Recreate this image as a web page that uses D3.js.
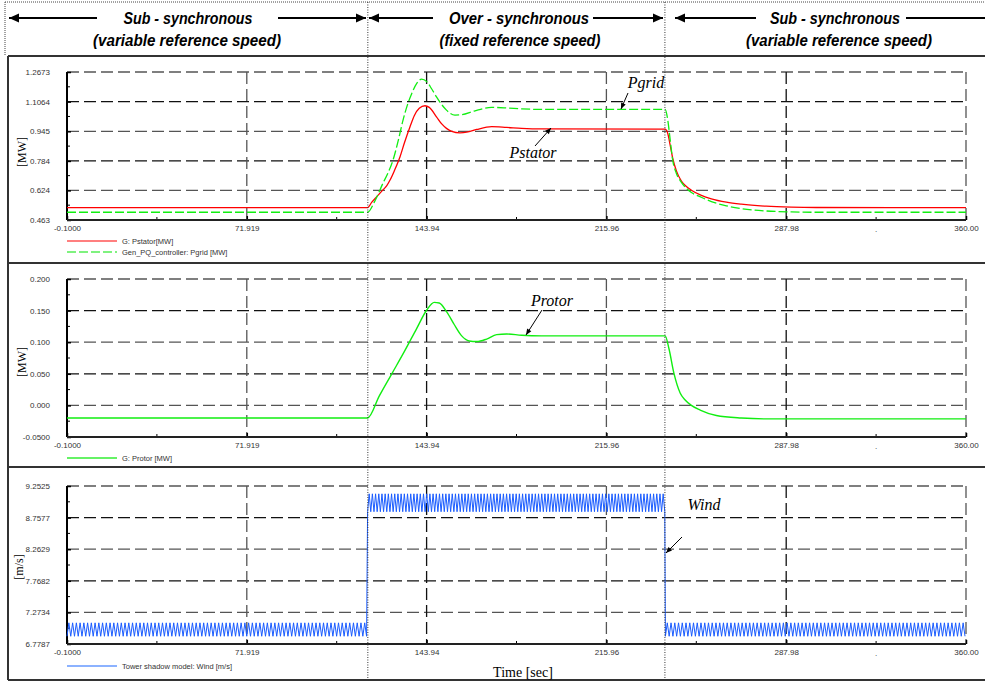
<!DOCTYPE html>
<html><head><meta charset="utf-8">
<script src="https://cdn.jsdelivr.net/npm/d3@7"></script>
<style>
html,body{margin:0;padding:0;background:#fff;}
svg{display:block;}
</style></head>
<body>
<svg id="chart" width="985" height="682"></svg>
<script>
// ---------- DATA ----------
const xTickVals = [-0.1, 71.919, 143.94, 215.96, 287.98, 360.0];
const xTickLabels = ["-0.1000", "71.919", "143.94", "215.96", "287.98", "360.00"];
const switchTimes = [120.4, 239.4];

const p1TickVals = [0.463, 0.624, 0.784, 0.945, 1.1064, 1.2673];
const p1TickLabels = ["0.463", "0.624", "0.784", "0.945", "1.1064", "1.2673"];
const p2TickVals = [-0.05, 0.0, 0.05, 0.1, 0.15, 0.2];
const p2TickLabels = ["-0.0500", "0.000", "0.050", "0.100", "0.150", "0.200"];
const p3TickVals = [6.7787, 7.2734, 7.7682, 8.2629, 8.7577, 9.2525];
const p3TickLabels = ["6.7787", "7.2734", "7.7682", "8.2629", "8.7577", "9.2525"];

const statorT = [-0.1, 120.3, 122, 124, 126, 128, 129.3, 131, 133.3, 135, 137.3, 139, 141, 143.3, 145, 147.9, 150, 151.9, 154, 157.3, 160, 164, 170, 176, 182, 190, 239.5, 240.5, 241.5, 242.5, 244, 246, 248, 250, 254, 258, 264, 270, 280, 290, 300, 360];
const statorP = [0.530, 0.530, 0.560, 0.590, 0.620, 0.650, 0.680, 0.730, 0.807, 0.880, 0.970, 1.030, 1.070, 1.084, 1.075, 1.024, 0.985, 0.961, 0.945, 0.937, 0.940, 0.955, 0.970, 0.966, 0.961, 0.958, 0.957, 0.935, 0.870, 0.800, 0.730, 0.675, 0.645, 0.625, 0.597, 0.578, 0.560, 0.549, 0.538, 0.533, 0.531, 0.530];

const gridT = [-0.1, 120.3, 123, 126.5, 128.5, 130.5, 132.5, 134.5, 136.3, 138, 140, 141.9, 144, 146, 147.9, 150, 151.9, 155.3, 158, 163, 170, 176, 182, 190, 239.5, 240.5, 241.5, 242.5, 244, 246, 248, 250, 253.4, 258, 264, 270, 280, 290, 300, 360];
const gridP = [0.505, 0.505, 0.560, 0.664, 0.720, 0.789, 0.890, 1.006, 1.090, 1.151, 1.205, 1.229, 1.215, 1.175, 1.132, 1.090, 1.060, 1.033, 1.035, 1.055, 1.075, 1.072, 1.067, 1.064, 1.064, 1.010, 0.900, 0.790, 0.716, 0.668, 0.635, 0.612, 0.590, 0.563, 0.540, 0.525, 0.512, 0.507, 0.505, 0.505];

const rotorT = [-0.1, 120.3, 125, 130, 135, 140, 144, 147, 149, 152, 155, 158, 161, 164, 168, 172, 176, 182, 190, 239.5, 241, 243, 245.5, 247.5, 250, 253.5, 260, 270, 280, 360];
const rotorP = [-0.020, -0.020, 0.015, 0.050, 0.085, 0.122, 0.151, 0.163, 0.162, 0.148, 0.128, 0.110, 0.102, 0.101, 0.105, 0.112, 0.113, 0.111, 0.110, 0.110, 0.090, 0.051, 0.0196, 0.0085, 0.000, -0.0073, -0.016, -0.020, -0.0213, -0.0213];

// wind (tower shadow oscillation): segments
const windSegStart = [-0.1, 120.3, 239.6];
const windSegEnd = [120.3, 239.6, 360.0];
const windLow = [6.90, 8.85, 6.90];
const windHigh = [7.11, 9.13, 7.11];
const windPeriod = [1.5, 1.28, 1.5];

// ---------- DRAW ----------
const svg = d3.select("#chart");
const X0 = 67, X1 = 966;
const x = d3.scaleLinear().domain([-0.1, 360]).range([X0, X1]);

const tickFont = "'Liberation Sans', Arial, sans-serif";
const serif = "'Liberation Serif', 'Times New Roman', serif";
const headFont = "'Liberation Sans', Arial, sans-serif";

// header
svg.append("line").attr("x1", 5).attr("x2", 985).attr("y1", 2).attr("y2", 2)
  .attr("stroke", "#444").attr("stroke-width", 1).attr("stroke-dasharray", "1,1");
svg.append("line").attr("x1", 5).attr("x2", 5).attr("y1", 2).attr("y2", 56)
  .attr("stroke", "#444").attr("stroke-width", 1).attr("stroke-dasharray", "1,1");

function arrow(xa, xb, y, headA, headB) {
  svg.append("line").attr("x1", xa).attr("x2", xb).attr("y1", y).attr("y2", y)
    .attr("stroke", "#000").attr("stroke-width", 2);
  if (headA) svg.append("path").attr("d", `M${xa},${y} l10,-4.5 l0,9 Z`).attr("fill", "#000");
  if (headB) svg.append("path").attr("d", `M${xb},${y} l-10,-4.5 l0,9 Z`).attr("fill", "#000");
}
arrow(9, 97, 18, true, false);
arrow(278, 366, 18, false, true);
arrow(369, 433, 18, true, false);
arrow(593, 663, 18, false, true);
arrow(675, 756, 18, true, false);
arrow(906, 985, 18, false, false);

const headTexts = [
  {t: "Sub - synchronous", cx: 188, y: 24, w: 129},
  {t: "(variable reference speed)", cx: 187, y: 46, w: 188},
  {t: "Over - synchronous", cx: 519, y: 24, w: 140},
  {t: "(fixed reference speed)", cx: 520, y: 46, w: 161},
  {t: "Sub - synchronous", cx: 835, y: 24, w: 130},
  {t: "(variable reference speed)", cx: 839, y: 46, w: 186}
];
svg.selectAll("text.head").data(headTexts).enter().append("text")
  .attr("class", "head").attr("x", d => d.cx - d.w / 2).attr("y", d => d.y)
  .attr("textLength", d => d.w).attr("lengthAdjust", "spacingAndGlyphs")
  .attr("font-family", headFont)
  .attr("font-weight", "bold").attr("font-style", "italic").attr("font-size", 17)
  .text(d => d.t);

// panel frames
[56, 263, 467, 680].forEach(yy => {
  svg.append("line").attr("x1", 8).attr("x2", 985).attr("y1", yy).attr("y2", yy)
    .attr("stroke", "#333").attr("stroke-width", 2.2);
});
svg.append("line").attr("x1", 8).attr("x2", 8).attr("y1", 56).attr("y2", 680)
  .attr("stroke", "#333").attr("stroke-width", 2);

// panels
const panels = [
  {top: 72, bottom: 220, vals: p1TickVals, labels: p1TickLabels, title: "[MW]", titleX: 22, titleY: 152},
  {top: 279, bottom: 437, vals: p2TickVals, labels: p2TickLabels, title: "[MW]", titleX: 22, titleY: 362},
  {top: 486, bottom: 644, vals: p3TickVals, labels: p3TickLabels, title: "[m/s]", titleX: 19, titleY: 567}
];

panels.forEach(p => {
  const vals = p.vals;
  p.y = d3.scaleLinear().domain([vals[0], vals[vals.length - 1]]).range([p.bottom, p.top]);
  const g = svg.append("g");
  vals.slice(1).forEach((v, i) => {
    g.append("line").attr("x1", X0).attr("x2", X1).attr("y1", p.y(v)).attr("y2", p.y(v))
      .attr("stroke", i % 2 === 0 ? "#555" : "#111").attr("stroke-width", 1.3)
      .attr("stroke-dasharray", "12,5");
  });
  xTickVals.slice(1).forEach((v, i) => {
    g.append("line").attr("x1", x(v)).attr("x2", x(v)).attr("y1", p.top).attr("y2", p.bottom)
      .attr("stroke", i % 2 === 0 ? "#555" : "#111").attr("stroke-width", 1.3)
      .attr("stroke-dasharray", "12,5");
  });
  const minY = d3.pairs(vals).map(d => (d[0] + d[1]) / 2);
  minY.forEach(v => g.append("line").attr("x1", X0).attr("x2", X0 + 3)
    .attr("y1", p.y(v)).attr("y2", p.y(v)).attr("stroke", "#000").attr("stroke-width", 1));
  const minX = d3.pairs(xTickVals).map(d => (d[0] + d[1]) / 2);
  minX.forEach(v => g.append("line").attr("x1", x(v)).attr("x2", x(v))
    .attr("y1", p.bottom).attr("y2", p.bottom - 3).attr("stroke", "#000").attr("stroke-width", 1));
  const ya = d3.axisLeft(p.y).tickValues(vals).tickFormat((d, i) => p.labels[i]).tickSize(-4).tickPadding(17);
  const yg = g.append("g").attr("transform", `translate(${X0},0)`).call(ya);
  yg.select(".domain").remove();
  yg.selectAll(".tick line").attr("stroke", "#000").attr("stroke-width", 1.5);
  yg.selectAll(".tick text").attr("font-family", tickFont).attr("font-size", 8).attr("fill", "#333");
  const xa = d3.axisBottom(x).tickValues(xTickVals).tickFormat((d, i) => xTickLabels[i]).tickSize(-4).tickPadding(5);
  const xg = g.append("g").attr("transform", `translate(0,${p.bottom})`).call(xa);
  xg.select(".domain").remove();
  xg.selectAll(".tick line").attr("stroke", "#000").attr("stroke-width", 1.5);
  xg.selectAll(".tick text").attr("font-family", tickFont).attr("font-size", 8).attr("fill", "#333");
  g.append("text").attr("x", x(minX[4])).attr("y", p.bottom + 12).attr("text-anchor", "middle")
    .attr("font-family", tickFont).attr("font-size", 8).attr("fill", "#333").text(".");
  g.append("line").attr("x1", X0).attr("x2", X0).attr("y1", p.top).attr("y2", p.bottom)
    .attr("stroke", "#000").attr("stroke-width", 2);
  g.append("line").attr("x1", X0).attr("x2", X1).attr("y1", p.bottom).attr("y2", p.bottom)
    .attr("stroke", "#222").attr("stroke-width", 1.8);
  g.append("text").attr("transform", `translate(${p.titleX},${p.titleY}) rotate(-90)`)
    .attr("text-anchor", "middle").attr("dy", "0.35em").attr("font-family", serif)
    .attr("font-size", 12).text(p.title);
});

function seriesLine(p, ts, vs) {
  return d3.line().x((d, i) => x(ts[i])).y((d, i) => p.y(vs[i])).curve(d3.curveMonotoneX)(vs);
}
const P1 = panels[0], P2 = panels[1], P3 = panels[2];
svg.append("path").attr("d", seriesLine(P1, statorT, statorP)).attr("fill", "none")
  .attr("stroke", "#ff0000").attr("stroke-width", 1.3);
svg.append("path").attr("d", seriesLine(P1, gridT, gridP)).attr("fill", "none")
  .attr("stroke", "#11ee11").attr("stroke-width", 1.3).attr("stroke-dasharray", "9,3");
svg.append("path").attr("d", seriesLine(P2, rotorT, rotorP)).attr("fill", "none")
  .attr("stroke", "#11ee11").attr("stroke-width", 1.4);

const windPts = [];
windSegStart.forEach((s, k) => {
  const half = windPeriod[k] / 2;
  let hi = false;
  for (let t = s; t <= windSegEnd[k] + 1e-9; t += half) {
    windPts.push([t, hi ? windHigh[k] : windLow[k]]);
    hi = !hi;
  }
});
svg.append("path").attr("d", d3.line().x(d => x(d[0])).y(d => P3.y(d[1]))(windPts))
  .attr("fill", "none").attr("stroke", "#1a5cff").attr("stroke-width", 1);

switchTimes.forEach(t => {
  svg.append("line").attr("x1", x(t)).attr("x2", x(t)).attr("y1", 2).attr("y2", 682)
    .attr("stroke", "#333").attr("stroke-width", 1).attr("stroke-dasharray", "1,1.5");
});

const legends = [
  {y: 241, color: "#ff5555", dash: null, text: "G: Pstator[MW]"},
  {y: 252, color: "#55ee55", dash: "9,3", text: "Gen_PQ_controller:  Pgrid [MW]"},
  {y: 458, color: "#33ee33", dash: null, text: "G: Protor [MW]"},
  {y: 666, color: "#6699ff", dash: null, text: "Tower shadow model: Wind [m/s]"}
];
legends.forEach(l => {
  const ln = svg.append("line").attr("x1", 67).attr("x2", 117).attr("y1", l.y).attr("y2", l.y)
    .attr("stroke", l.color).attr("stroke-width", 1.5);
  if (l.dash) ln.attr("stroke-dasharray", l.dash);
  svg.append("text").attr("x", 122).attr("y", l.y).attr("dy", "0.35em")
    .attr("font-family", tickFont).attr("font-size", 7.5).attr("fill", "#333").text(l.text);
});

const annos = [
  {t: "Pgrid", x: 646, y: 88, ax1: 628, ay1: 93, ax2: 621, ay2: 109},
  {t: "Pstator", x: 533, y: 158, ax1: 535, ay1: 146, ax2: 551, ay2: 128},
  {t: "Protor", x: 552, y: 306, ax1: 542, ay1: 310, ax2: 526, ay2: 335},
  {t: "Wind", x: 704, y: 510, ax1: 682, ay1: 537, ax2: 666, ay2: 553}
];
annos.forEach(a => {
  svg.append("text").attr("x", a.x).attr("y", a.y).attr("text-anchor", "middle")
    .attr("font-family", serif).attr("font-style", "italic").attr("font-size", 16).text(a.t);
  svg.append("line").attr("x1", a.ax1).attr("y1", a.ay1).attr("x2", a.ax2).attr("y2", a.ay2)
    .attr("stroke", "#000").attr("stroke-width", 1);
  const ang = Math.atan2(a.ay2 - a.ay1, a.ax2 - a.ax1);
  const L = 6, W = 2.5;
  const bx = a.ax2 - L * Math.cos(ang), by = a.ay2 - L * Math.sin(ang);
  const px = -Math.sin(ang) * W, py = Math.cos(ang) * W;
  svg.append("path").attr("d", `M${a.ax2},${a.ay2} L${bx + px},${by + py} L${bx - px},${by - py} Z`).attr("fill", "#000");
});

svg.append("text").attr("x", 523).attr("y", 677).attr("text-anchor", "middle")
  .attr("font-family", serif).attr("font-size", 14).text("Time [sec]");
</script>
</body></html>
